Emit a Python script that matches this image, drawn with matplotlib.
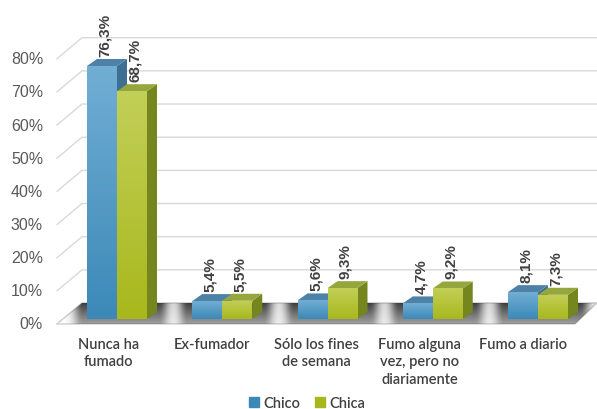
import numpy as np
import matplotlib
matplotlib.use("Agg")
import matplotlib.pyplot as plt
from matplotlib.patches import Polygon, Rectangle

categories = ["Nunca ha\nfumado", "Ex-fumador", "Sólo los fines\nde semana",
              "Fumo alguna\nvez, pero no\ndiariamente", "Fumo a diario"]
series = ["Chico", "Chica"]
chico = [76.3, 5.4, 5.6, 4.7, 8.1]
chica = [68.7, 5.5, 9.3, 9.2, 7.3]
yticks = [0, 10, 20, 30, 40, 50, 60, 70, 80]

# colores (frente arriba, frente abajo, tapa, lateral)
COL = {
    "Chico": ("#71AED4", "#3C89B8", "#4E81A6", "#3E6F92"),
    "Chica": ("#C2CF58", "#A8B81C", "#95A63C", "#76861E"),
}
TXT = "#404040"

# escala en píxeles -> unidades de datos
PX = 105.25   # px por categoría
PY = 3.316    # px por 1 %
def ux(px): return px / PX
def uy(py): return py / PY

fig = plt.figure(figsize=(5.97, 4.10), dpi=100)
ax = fig.add_axes([0, 0, 1, 1])
XL = (ux(0 - 117), ux(597 - 117))
YL = (uy(320 - 410), uy(320))
ax.axis("off")

# ── suelo y pared de fondo ──────────────────────────────────────
f_l, b_l = ux(57 - 117), ux(82 - 117)
f_r, b_r = ux(575 - 117), ux(597 - 117)
f_y, b_y = uy(-5), uy(16)
floor = Polygon([(f_l, f_y), (b_l, b_y), (b_r, b_y), (f_r, f_y)], closed=True,
                facecolor="white", edgecolor="#D0D0D0", linewidth=1.0, zorder=1)
ax.add_patch(floor)

for v in yticks:
    ax.plot([f_l, b_l, XL[1]], [f_y + v, b_y + v, b_y + v],
            color="#D9D9D9", linewidth=1.0, zorder=0.5)
    ax.text(ux(43 - 117), f_y + v, f"{v}%", ha="right", va="center",
            fontsize=11.5, color="#595959", family="Liberation Sans")

# ── sombras sobre el suelo ──────────────────────────────────────
w = ux(30)
nx, ny = 200, 40
for i in range(len(categories)):
    xl, xr = i - w - ux(4), i + w + ux(12)
    ext = (xl - ux(30), xr + ux(30), f_y, b_y)
    xs = np.linspace(ext[0], ext[1], nx)
    d = np.maximum(np.maximum(xl - xs, xs - xr), 0) / ux(10)
    a = np.exp(-d ** 2) * 0.85
    a = np.tile(a, (ny, 1))
    a *= np.linspace(0.5, 1.0, ny)[:, None]
    img = np.zeros((ny, nx, 4))
    img[..., :3] = 0.12
    img[..., 3] = a
    im = ax.imshow(img, extent=ext, origin="lower", aspect="auto",
                   interpolation="bilinear", zorder=1.5)
    im.set_clip_path(floor)

# ── barras 3D ──────────────────────────────────────────────────
tdx, tdy = ux(10), uy(7)
x = np.arange(len(categories))
grad = np.linspace(0, 1, 64)[:, None]

for k, (name, vals) in enumerate(zip(series, [chico, chica])):
    c_top, c_bot, c_cap, c_side = COL[name]
    pos = x - w / 2 + k * w
    bars = ax.bar(pos, vals, width=w, color=c_bot, linewidth=0, zorder=2 + k)
    for b, v in zip(bars, vals):
        x0 = b.get_x()
        side = Polygon([(x0 + w, 0), (x0 + w, v), (x0 + w + tdx, v + tdy),
                        (x0 + w + tdx, tdy)], closed=True, facecolor=c_side,
                       linewidth=0, zorder=2 + k - 0.1)
        cap = Polygon([(x0, v), (x0 + w, v), (x0 + w + tdx, v + tdy),
                       (x0 + tdx, v + tdy)], closed=True, facecolor=c_cap,
                      linewidth=0, zorder=2 + k)
        ax.add_patch(side)
        ax.add_patch(cap)
        cmap = matplotlib.colors.LinearSegmentedColormap.from_list("g", [c_bot, c_top])
        im = ax.imshow(grad, extent=(x0, x0 + w, 0, v), origin="lower",
                       aspect="auto", cmap=cmap, zorder=2 + k + 0.05)
        im.set_clip_path(b)
        ax.text(x0 + w / 2 + ux(3), v + tdy + uy(3), f"{v:.1f}%".replace(".", ","),
                rotation=90, ha="center", va="bottom", fontsize=11,
                fontweight="bold", color=TXT, family="Liberation Sans", zorder=5)

# ── etiquetas de categoría ─────────────────────────────────────
cw = (f_r - f_l) / len(categories)
for i, c in enumerate(categories):
    ax.text(f_l + (i + 0.5) * cw, uy(320 - 338), c, ha="center", va="top",
            fontsize=10.5, color=TXT, family="Lato", fontweight="semibold",
            linespacing=1.3)

ax.set_xlim(*XL)
ax.set_ylim(*YL)

handles = [Rectangle((0, 0), 1, 1, color=COL[s][1]) for s in series]
fig.legend(handles, series, loc="center", bbox_to_anchor=(307 / 597, 1 - 404 / 410),
           ncol=2, frameon=False, handlelength=0.7, handleheight=0.7,
           handletextpad=0.3, columnspacing=1.0,
           prop={"family": "Lato", "size": 10.5, "weight": "semibold"},
           labelcolor=TXT)

fig.savefig("out.png", dpi=100)
